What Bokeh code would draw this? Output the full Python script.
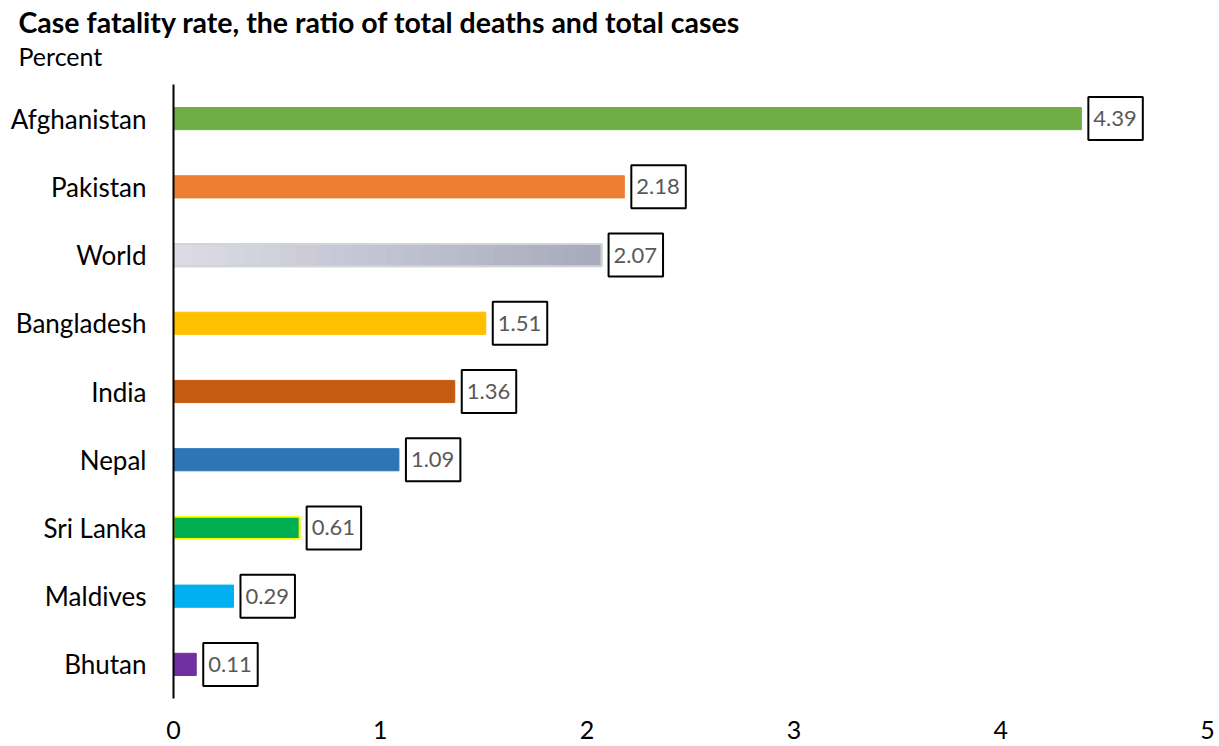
from bokeh.plotting import figure
from bokeh.models import ColumnDataSource, FactorRange, FixedTicker, Title
from bokeh.core.properties import value
from bokeh.embed import file_html
from bokeh.resources import INLINE

countries = ["Afghanistan", "Pakistan", "World", "Bangladesh", "India",
             "Nepal", "Sri Lanka", "Maldives", "Bhutan"]
rates = [4.39, 2.18, 2.07, 1.51, 1.36, 1.09, 0.61, 0.29, 0.11]
labels = ["4.39", "2.18", "2.07", "1.51", "1.36", "1.09", "0.61", "0.29", "0.11"]
colors = ["#70AD47", "#ED7D31", "#C1C3D0", "#FFC000", "#C55A11",
          "#2E75B6", "#00B050", "#00B0F0", "#7030A0"]
outlines = ["#70AD47", "#ED7D31", "#D4D4D4", "#FFC000", "#C55A11",
            "#2E75B6", "#FFFF00", "#00B0F0", "#7030A0"]
outline_widths = [1, 1, 2, 1, 1, 1, 2, 1, 1]
x_ticks = [0, 1, 2, 3, 4, 5]

# gradient shading of the "World" bar (light left -> darker right)
world_grad_start = (218, 219, 228)
world_grad_end = (168, 171, 190)
GRAD_STEPS = 24

FONT = "Lato"

src = ColumnDataSource(dict(country=countries, rate=rates, label=labels,
                            color=colors, outline=outlines, lw=outline_widths))

p = figure(width=1219, height=746, output_backend="svg", toolbar_location=None,
           y_range=FactorRange(factors=list(reversed(countries)), range_padding=0),
           x_range=(0, 5), min_border_left=173, min_border_right=12,
           min_border_top=84, min_border_bottom=48, title=None)

# spacer between subtitle and plot area
p.add_layout(Title(text=" ", text_font=FONT, text_font_size="10px",
                   align="left", standoff=0), "above")
p.add_layout(Title(text="Percent", text_font=FONT, text_font_size="25px",
                   text_font_style="normal", text_color="black", align="left",
                   offset=-155, standoff=0), "above")
p.add_layout(Title(text="Case fatality rate, the ratio of total deaths and total cases",
                   text_font=FONT, text_font_size="28.5px", text_font_style="bold",
                   text_color="black", align="left", offset=-155, standoff=0), "above")

BAR_H = 0.325
p.hbar(y="country", right="rate", left=0, height=BAR_H, source=src,
       fill_color="color", line_color="outline", line_width="lw")

# gradient overlay for the World bar, split from its own value
wi = countries.index("World")
wv = rates[wi]
g_left, g_right, g_col = [], [], []
for k in range(GRAD_STEPS):
    t = k / (GRAD_STEPS - 1)
    c = tuple(int(round(a + (b - a) * t)) for a, b in zip(world_grad_start, world_grad_end))
    g_left.append(wv * k / GRAD_STEPS)
    g_right.append(wv * (k + 1) / GRAD_STEPS)
    g_col.append("#%02x%02x%02x" % c)
p.hbar(y=[countries[wi]] * GRAD_STEPS, left=g_left, right=g_right, height=BAR_H,
       fill_color=g_col, line_color=g_col, line_width=1)
p.hbar(y=[countries[wi]], left=[0], right=[wv], height=BAR_H,
       fill_color=None, line_color=outlines[wi], line_width=2)

p.text(x="rate", y="country", text="label", source=src,
       text_font=value(FONT), text_font_size="22px", text_color="#595959",
       text_align="left", text_baseline="middle", x_offset=7,
       border_line_color="black", border_line_width=2,
       background_fill_color="white",
       padding=dict(left=5, right=6, top=14, bottom=14))

p.xgrid.visible = False
p.ygrid.visible = False
p.outline_line_color = None

p.xaxis.ticker = FixedTicker(ticks=x_ticks)
p.xaxis.axis_line_color = None
p.xaxis.major_tick_line_color = None
p.xaxis.minor_tick_line_color = None
p.xaxis.major_tick_out = 0
p.xaxis.major_tick_in = 0
p.xaxis.major_label_text_font = FONT
p.xaxis.major_label_text_font_size = "25px"
p.xaxis.major_label_text_color = "black"
p.xaxis.major_label_standoff = 22

p.yaxis.axis_line_color = "black"
p.yaxis.axis_line_width = 2
p.yaxis.major_tick_line_color = None
p.yaxis.minor_tick_line_color = None
p.yaxis.major_tick_out = 0
p.yaxis.major_tick_in = 0
p.yaxis.major_label_text_font = FONT
p.yaxis.major_label_text_font_size = "26px"
p.yaxis.major_label_text_color = "black"
p.yaxis.major_label_standoff = 27

open("out.html", "w").write(file_html(p, INLINE))
